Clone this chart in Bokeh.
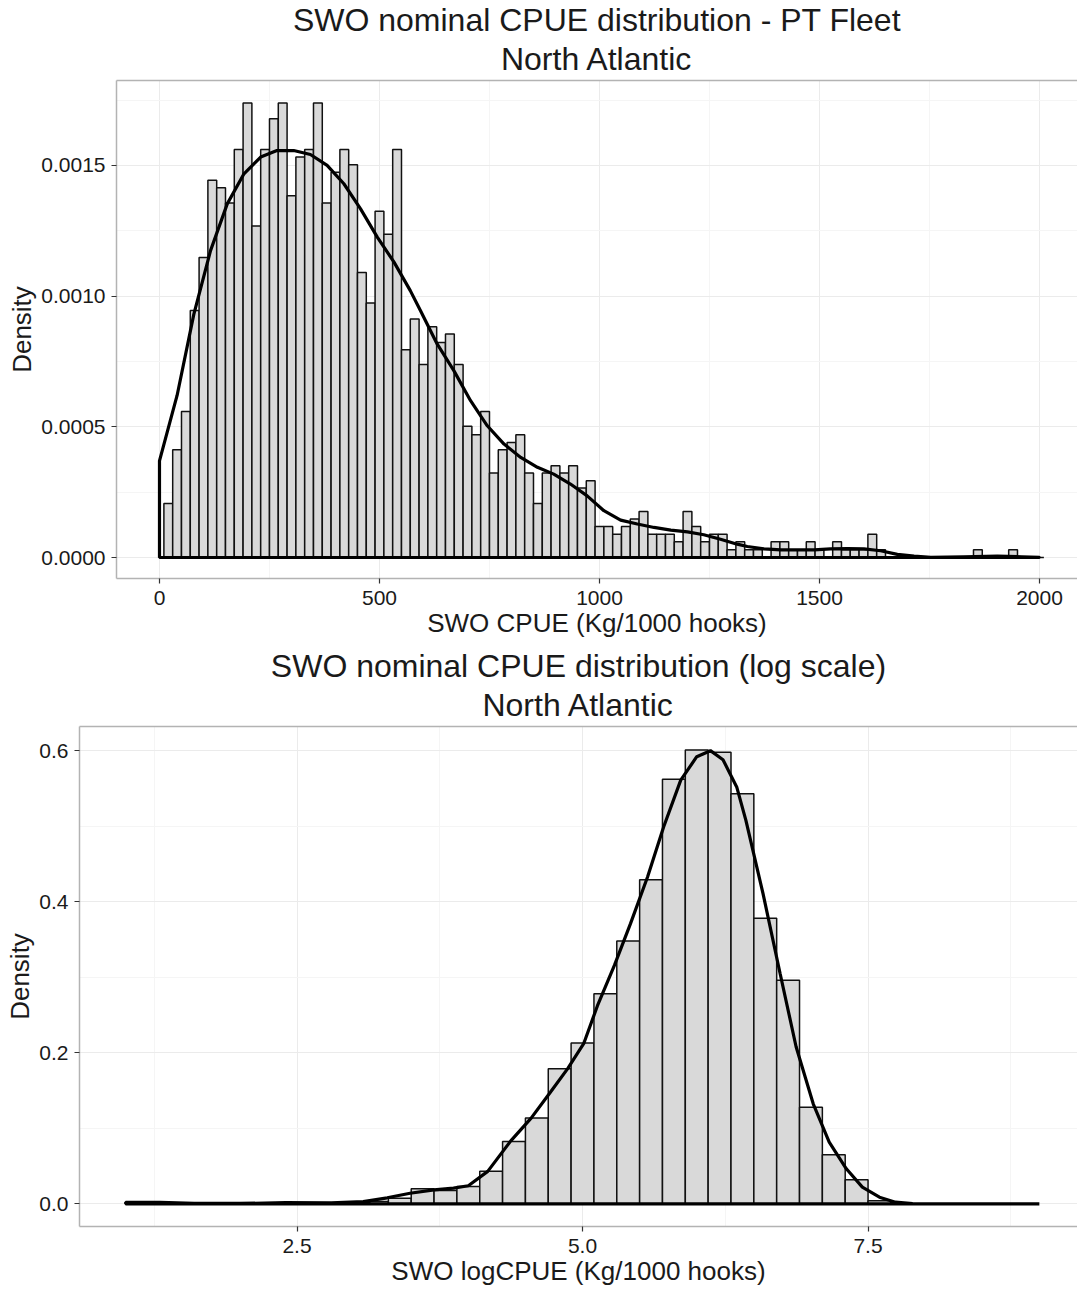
from bokeh.plotting import figure
from bokeh.models import Range1d, FixedTicker, PrintfTickFormatter, Title, LinearAxis
from bokeh.embed import file_html
from bokeh.resources import INLINE

FONT = "Liberation Sans"
TXT = "#1a1a1a"
BORDER = "#b3b3b3"
GRID_MAJOR = "#ebebeb"
GRID_MINOR = "#f5f5f5"
BAR_FILL = "#d9d9d9"

# ---------------- Top chart data: SWO CPUE (Kg/1000 hooks) ----------------
cpue_bin_width = 20
cpue_bin_centers = list(range(20, 2001, 20))
cpue_density = [
    0.000207, 0.000412, 0.000559, 0.000945, 0.001148, 0.001443, 0.001415, 0.001356, 0.001561, 0.001739,
    0.001268, 0.001561, 0.001679, 0.001739, 0.001384, 0.001532, 0.001561, 0.001739, 0.001356, 0.001474,
    0.001561, 0.001503, 0.001090, 0.000974, 0.001325, 0.001237, 0.001561, 0.000795, 0.000913, 0.000738,
    0.000883, 0.000823, 0.000855, 0.000738, 0.000502, 0.000470, 0.000559, 0.000323, 0.000412, 0.000440,
    0.000470, 0.000323, 0.000207, 0.000323, 0.000351, 0.000323, 0.000351, 0.000266, 0.000294, 0.000119,
    0.000119, 0.000089, 0.000119, 0.000147, 0.000176, 0.000089, 0.000089, 0.000089, 0.000060, 0.000176,
    0.000119, 0.000060, 0.000089, 0.000089, 0.000030, 0.000060, 0.000030, 0.000030, 0.0, 0.000060,
    0.000060, 0.000030, 0.000030, 0.000060, 0.000030, 0.0, 0.000060, 0.000030, 0.000030, 0.000030,
    0.000089, 0.000030, 0.0, 0.0, 0.0, 0.0, 0.0, 0.0, 0.0, 0.0,
    0.0, 0.0, 0.000030, 0.0, 0.0, 0.0, 0.000030, 0.0, 0.0, 0.0,
]
cpue_kde_x = [0, 40, 78, 116, 154, 192, 230, 267, 305, 343, 381, 419, 457, 495, 533, 570, 593, 631,
              669, 707, 745, 783, 821, 859, 896, 934, 972, 1010, 1048, 1086, 1124, 1162, 1200, 1237,
              1275, 1313, 1336, 1374, 1412, 1450, 1488, 1525, 1563, 1601, 1639, 1677, 1715, 1753,
              1828, 1904, 1960, 2000]
cpue_kde_y = [0.00037, 0.00062, 0.00093, 0.001174, 0.001353, 0.001468, 0.001532, 0.001557, 0.001557,
              0.001542, 0.0015, 0.00143, 0.001334, 0.001226, 0.00113, 0.001021, 0.000945, 0.000817,
              0.000715, 0.0006, 0.000504, 0.000434, 0.000383, 0.000345, 0.000319, 0.000281, 0.000236,
              0.000179, 0.000143, 0.000128, 0.000115, 0.000105, 0.000098, 0.000087, 0.00007, 0.000051,
              0.000042, 0.000033, 0.000029, 0.000029, 0.000029, 0.000033, 0.000034, 0.000033, 0.000026,
              0.000012, 0.000005, 0.000001, 0.000003, 0.000005, 0.000003, 0.000001]
cpue_x_ticks = [0, 500, 1000, 1500, 2000]
cpue_x_minor = [250, 750, 1250, 1750]
cpue_y_ticks = [0.0, 0.0005, 0.0010, 0.0015]
cpue_y_minor = [0.00025, 0.00075, 0.00125, 0.00175]

# ---------------- Bottom chart data: SWO logCPUE ----------------
log_bin_width = 0.2
log_bin_centers = [3.2, 3.4, 3.6, 3.8, 4.0, 4.2, 4.4, 4.6, 4.8, 5.0, 5.2, 5.4, 5.6, 5.8,
                   6.0, 6.2, 6.4, 6.6, 6.8, 7.0, 7.2, 7.4, 7.6]
log_density = [0.003, 0.0075, 0.0199, 0.0177, 0.023, 0.0433, 0.0826, 0.1135, 0.179, 0.213, 0.278,
               0.348, 0.429, 0.562, 0.601, 0.598, 0.543, 0.378, 0.296, 0.128, 0.065, 0.032, 0.004]
log_kde_x = [1.0, 1.3, 1.6, 2.0, 2.4, 2.8, 3.08, 3.29, 3.49, 3.70, 3.87, 4.0, 4.17, 4.37, 4.55, 4.72,
             4.87, 5.01, 5.13, 5.28, 5.42, 5.57, 5.71, 5.86, 6.00, 6.12, 6.23, 6.35, 6.43, 6.58, 6.73,
             6.87, 7.02, 7.16, 7.31, 7.45, 7.60, 7.74, 7.89, 8.2, 9.0]
log_kde_y = [0.002, 0.002, 0.0005, 0.0005, 0.0015, 0.0013, 0.003, 0.008, 0.014, 0.0186, 0.0208, 0.024,
             0.043, 0.083, 0.1135, 0.148, 0.179, 0.212, 0.262, 0.316, 0.371, 0.433, 0.499, 0.561, 0.592,
             0.600, 0.588, 0.552, 0.508, 0.411, 0.305, 0.208, 0.1325, 0.0817, 0.0464, 0.0221, 0.0088,
             0.0022, 0.0004, 0.0, 0.0]
log_x_ticks = [2.5, 5.0, 7.5]
log_x_minor = [1.25, 3.75, 6.25, 8.75]
log_y_ticks = [0.0, 0.2, 0.4, 0.6]
log_y_minor = [0.1, 0.3, 0.5]


def build(width, height, xr, yr, bl, bt, bb, title1, title2, xlabel,
          xt, xm, yt, ym, xfmt, yfmt):
    p = figure(width=width, height=height, x_range=Range1d(*xr), y_range=Range1d(*yr),
               output_backend="svg", toolbar_location=None, title=None,
               min_border_left=bl, min_border_right=0, min_border_top=bt, min_border_bottom=bb,
               background_fill_color="white", border_fill_color="white")
    p.outline_line_color = None
    xtk = FixedTicker(ticks=xt, minor_ticks=xm)
    ytk = FixedTicker(ticks=yt, minor_ticks=ym)
    p.xaxis.ticker = xtk
    p.yaxis.ticker = ytk
    p.xgrid.ticker = xtk
    p.ygrid.ticker = ytk
    for g in (p.xgrid, p.ygrid):
        g.grid_line_color = GRID_MAJOR
        g.grid_line_width = 1
        g.minor_grid_line_color = GRID_MINOR
        g.minor_grid_line_width = 1
    for ax in (p.xaxis[0], p.yaxis[0]):
        ax.axis_line_color = BORDER
        ax.axis_line_width = 1.5
        ax.major_tick_line_color = "#333333"
        ax.major_tick_line_width = 1.2
        ax.major_tick_out = 5
        ax.major_tick_in = 0
        ax.minor_tick_line_color = None
        ax.major_label_text_font = FONT
        ax.major_label_text_font_size = "21px"
        ax.major_label_text_color = TXT
        ax.axis_label_text_font = FONT
        ax.axis_label_text_font_size = "26px"
        ax.axis_label_text_font_style = "normal"
        ax.axis_label_text_color = TXT
    p.xaxis.major_label_standoff = 7
    p.yaxis.major_label_standoff = 6
    p.xaxis.axis_label_standoff = 0
    p.yaxis.axis_label_standoff = 1
    p.xaxis.axis_label = xlabel
    p.yaxis.axis_label = "Density"
    p.xaxis.formatter = xfmt
    p.yaxis.formatter = yfmt
    top = LinearAxis(ticker=FixedTicker(ticks=[]), axis_line_color=BORDER, axis_line_width=1.5,
                     major_tick_line_color=None, minor_tick_line_color=None,
                     major_label_standoff=0, axis_label_standoff=0)
    p.add_layout(top, "above")
    p.add_layout(Title(text=title2, align="center", text_font=FONT, text_font_size="32px",
                       text_font_style="normal", text_color=TXT, standoff=7,
                       text_line_height=0.9), "above")
    p.add_layout(Title(text=title1, align="center", text_font=FONT, text_font_size="32px",
                       text_font_style="normal", text_color=TXT, standoff=-5,
                       text_line_height=0.9), "above")
    return p


p1 = build(1077, 644, (-97.7, 2086.4), (-0.0000803, 0.001825), 116, 80, 66,
           "SWO nominal CPUE distribution - PT Fleet", "North Atlantic", "SWO CPUE (Kg/1000 hooks)",
           cpue_x_ticks, cpue_x_minor, cpue_y_ticks, cpue_y_minor,
           PrintfTickFormatter(format="%d"), PrintfTickFormatter(format="%.4f"))
hw = cpue_bin_width / 2
p1.quad(left=[c - hw for c in cpue_bin_centers], right=[c + hw for c in cpue_bin_centers],
        bottom=0, top=cpue_density, fill_color=BAR_FILL, line_color="#111111", line_width=1.5)
p1.patch([0] + cpue_kde_x + [cpue_kde_x[-1]], [0] + cpue_kde_y + [0],
         fill_alpha=0, line_color="black", line_width=3.2)

p2 = build(1077, 645, (0.5955, 9.334), (-0.03, 0.632), 79, 82, 63,
           "SWO nominal CPUE distribution (log scale)", "North Atlantic", "SWO logCPUE (Kg/1000 hooks)",
           log_x_ticks, log_x_minor, log_y_ticks, log_y_minor,
           PrintfTickFormatter(format="%.1f"), PrintfTickFormatter(format="%.1f"))
lw = log_bin_width / 2
p2.quad(left=[c - lw for c in log_bin_centers], right=[c + lw for c in log_bin_centers],
        bottom=0, top=log_density, fill_color=BAR_FILL, line_color="#111111", line_width=1.5)
p2.patch([log_kde_x[0]] + log_kde_x + [log_kde_x[-1]], [0] + log_kde_y + [0],
         fill_alpha=0, line_color="black", line_width=3.2)

open("out.html", "w").write(file_html([p1, p2], INLINE))
